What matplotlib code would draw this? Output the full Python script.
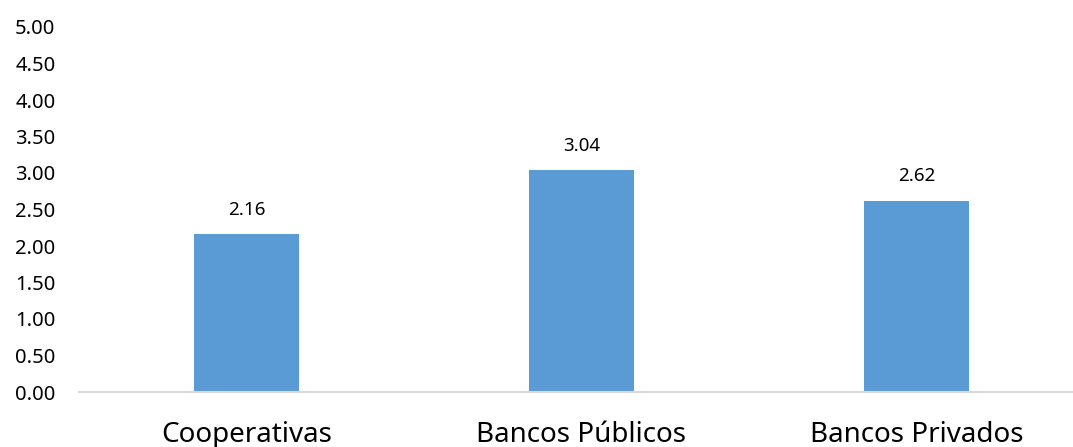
import matplotlib.pyplot as plt

categories = ['Cooperativas', 'Bancos Públicos', 'Bancos Privados']
values = [2.16, 3.04, 2.62]
yticks = [0.0, 0.5, 1.0, 1.5, 2.0, 2.5, 3.0, 3.5, 4.0, 4.5, 5.0]

plt.rcParams['font.family'] = ['Noto Sans', 'DejaVu Sans']

fig = plt.figure(figsize=(10.73, 4.47), dpi=100)
ax = fig.add_axes([79 / 1073, 55 / 447, 994 / 1073, 365 / 447])

x = range(len(categories))
bars = ax.bar(x, values, width=0.316, color='#5B9BD5', zorder=2)
for b, v in zip(bars, values):
    ax.text(b.get_x() + b.get_width() / 2, v + 0.21, '{:.2f}'.format(v),
            ha='center', va='bottom', fontsize=13.5, color='#000000')

ax.set_xlim(-0.5, 2.5 - 11 / 335)
ax.set_ylim(0, 5)
ax.set_yticks(yticks)
ax.set_yticklabels(['{:.2f}'.format(t) for t in yticks], fontsize=14.5)
ax.set_xticks(list(x))
ax.set_xticklabels(categories, fontsize=20)
ax.tick_params(axis='y', length=0, pad=17)
ax.tick_params(axis='x', length=0, pad=21)

for s in ['top', 'right', 'left']:
    ax.spines[s].set_visible(False)
ax.spines['bottom'].set_color('#D9D9D9')
ax.spines['bottom'].set_linewidth(1.5)

fig.savefig('out.png', dpi=100)
